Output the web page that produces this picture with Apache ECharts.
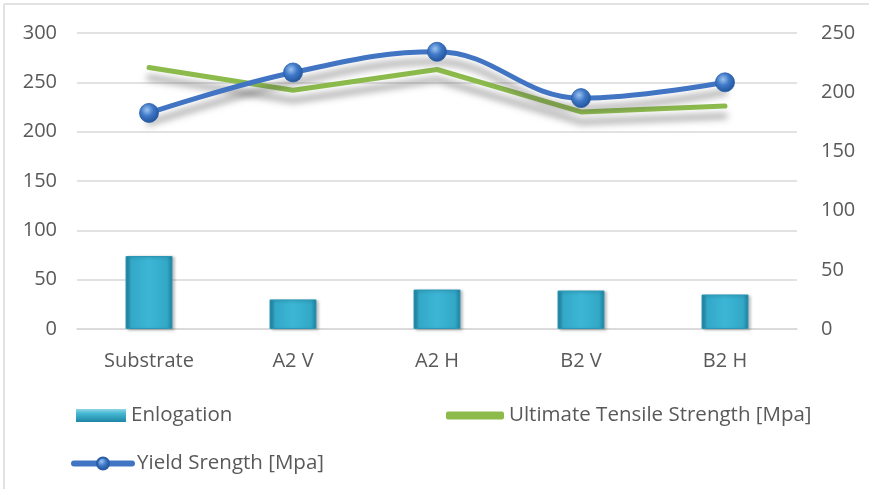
<!DOCTYPE html>
<html>
<head>
<meta charset="utf-8">
<style>
  html, body { margin: 0; padding: 0; background: #fff; }
  #chart { width: 869px; height: 489px; }
</style>
<script src="https://cdn.jsdelivr.net/npm/echarts@6/dist/echarts.min.js"></script>
</head>
<body>
<div id="chart"></div>
<script>
// Specimen categories and measured properties
const categories = ['Substrate', 'A2 V', 'A2 H', 'B2 V', 'B2 H'];
const elongation = [74, 30, 40, 39, 35];
const ultimateTensile = [265, 242, 263, 220, 226];
const yieldStrength = [219, 260, 281, 234, 250];

const leftTicks = { min: 0, max: 300, interval: 50 };
const rightTicks = { min: 0, max: 250, interval: 50 };

const textColor = '#595959';
const fontFamily = '"Open Sans", "Noto Sans", sans-serif';
const axisFont = 20;
const legendFont = 20.5;

const chart = echarts.init(document.getElementById('chart'));

const barFill = {
  type: 'linear', x: 0, y: 0, x2: 1, y2: 0,
  colorStops: [
    { offset: 0, color: '#1f7f9c' },
    { offset: 0.12, color: '#33a8c8' },
    { offset: 0.5, color: '#3cb6d6' },
    { offset: 0.88, color: '#33a8c8' },
    { offset: 1, color: '#1f7f9c' }
  ]
};

const legendBarFill = {
  type: 'linear', x: 0, y: 0, x2: 0, y2: 1,
  colorStops: [
    { offset: 0, color: '#8fd6e6' },
    { offset: 0.35, color: '#44b7d3' },
    { offset: 1, color: '#1f86a4' }
  ]
};

const sphere = {
  type: 'radial', x: 0.4, y: 0.35, r: 0.7,
  colorStops: [
    { offset: 0, color: '#9cc3f0' },
    { offset: 0.45, color: '#3f78c8' },
    { offset: 1, color: '#1d4f94' }
  ]
};

const lineShadow = {
  shadowColor: 'rgba(80,80,80,0.55)',
  shadowBlur: 7,
  shadowOffsetY: 10
};

const legendText = { color: textColor, fontSize: legendFont, fontFamily: fontFamily };

chart.setOption({
  animation: false,
  textStyle: { fontFamily: fontFamily },
  grid: { left: 77, right: 72, top: 33, bottom: 160, containLabel: false },
  graphic: [
    { type: 'line', shape: { x1: 4, y1: 4, x2: 869, y2: 4 }, style: { stroke: '#d9d9d9', lineWidth: 1.5 } },
    { type: 'line', shape: { x1: 4, y1: 4, x2: 4, y2: 489 }, style: { stroke: '#d9d9d9', lineWidth: 1.5 } }
  ],
  legend: [
    {
      left: 71, top: 400, itemWidth: 50, itemHeight: 13, itemGap: 10,
      data: [{ name: 'Enlogation', icon: 'rect', itemStyle: { color: legendBarFill, borderWidth: 0, shadowBlur: 0 } }],
      textStyle: legendText
    },
    {
      left: 441, top: 400, itemWidth: 58, itemHeight: 8,
      data: [{ name: 'Ultimate Tensile Strength [Mpa]', icon: 'roundRect', itemStyle: { color: '#8cbb4c' } }],
      textStyle: legendText
    },
    {
      left: 66, top: 448, itemWidth: 58, itemHeight: 15,
      lineStyle: { width: 6, color: '#4174c2', shadowBlur: 0, shadowOffsetY: 0 },
      data: ['Yield Srength [Mpa]'],
      textStyle: legendText
    }
  ],
  xAxis: {
    type: 'category',
    data: categories,
    axisLine: { show: true, lineStyle: { color: '#d9d9d9', width: 1.5 } },
    axisTick: { show: false },
    axisLabel: { color: textColor, fontSize: axisFont, margin: 22 }
  },
  yAxis: [
    {
      type: 'value',
      min: leftTicks.min, max: leftTicks.max, interval: leftTicks.interval,
      axisLine: { show: false },
      axisTick: { show: false },
      axisLabel: { color: textColor, fontSize: axisFont, margin: 20 },
      splitLine: { lineStyle: { color: '#d9d9d9', width: 1.5 } }
    },
    {
      type: 'value',
      position: 'right',
      min: rightTicks.min, max: rightTicks.max, interval: rightTicks.interval,
      axisLine: { show: false },
      axisTick: { show: false },
      axisLabel: { color: textColor, fontSize: axisFont, margin: 24 },
      splitLine: { show: false }
    }
  ],
  series: [
    {
      name: 'Enlogation',
      type: 'bar',
      yAxisIndex: 0,
      barWidth: 47,
      data: elongation,
      itemStyle: {
        color: barFill,
        borderColor: '#2b97b6',
        borderWidth: 1,
        shadowColor: 'rgba(0,0,0,0.25)',
        shadowBlur: 3,
        shadowOffsetX: 2,
        shadowOffsetY: 1
      }
    },
    {
      name: 'Ultimate Tensile Strength [Mpa]',
      type: 'line',
      yAxisIndex: 0,
      data: ultimateTensile,
      symbol: 'none',
      itemStyle: { color: '#8cbb4c' },
      lineStyle: Object.assign({ color: '#8cbb4c', width: 5, cap: 'round' }, lineShadow)
    },
    {
      name: 'Yield Srength [Mpa]',
      type: 'line',
      yAxisIndex: 0,
      data: yieldStrength,
      smooth: 0.4,
      symbol: 'circle',
      symbolSize: 19,
      itemStyle: { color: sphere, borderColor: '#2a5da6', borderWidth: 0.8 },
      lineStyle: Object.assign({ color: '#4174c2', width: 5, cap: 'round' }, lineShadow)
    }
  ]
});
</script>
</body>
</html>
